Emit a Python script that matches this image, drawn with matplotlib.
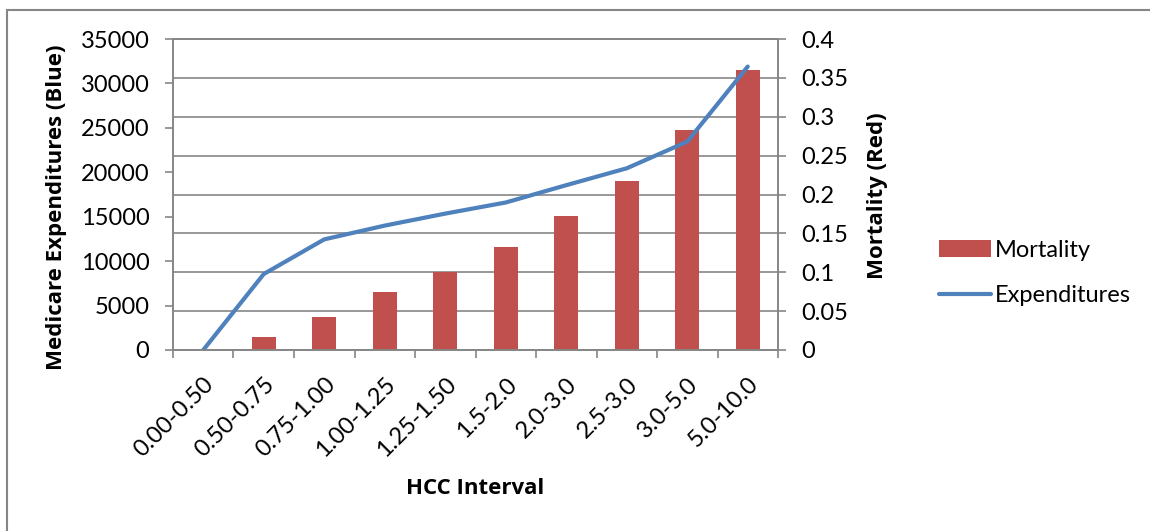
import matplotlib as mpl

mpl.use("Agg")
import matplotlib.pyplot as plt
from matplotlib.patches import Rectangle
import numpy as np

plt.rcParams["font.family"] = ["Lato", "DejaVu Sans"]

intervals = ["0.00-0.50", "0.50-0.75", "0.75-1.00", "1.00-1.25", "1.25-1.50",
             "1.5-2.0", "2.0-3.0", "2.5-3.0", "3.0-5.0", "5.0-10.0"]
mortality = [0.0, 0.017, 0.043, 0.075, 0.100, 0.132, 0.172, 0.217, 0.283, 0.360]
expenditures = [0, 8550, 12450, 14000, 15350, 16600, 18550, 20450, 23450, 31900]

RED = "#C0504D"
BLUE = "#4F81BD"
GRID = "#868686"
BOLD = dict(family=["Open Sans", "DejaVu Sans"], fontweight="bold", fontsize=16)
TICK_FS = 17

fig = plt.figure(figsize=(11.5, 5.31), dpi=100)
ax = fig.add_axes([173 / 1150, 1 - 350 / 531, 605 / 1150, 311 / 531])
ax2 = ax.twinx()

x = np.arange(len(intervals))

# bars on the right axis, gridlines live there too so they sit behind the bars
ax2.bar(x, mortality, width=0.4, color=RED, zorder=2, label="Mortality")
ax2.set_ylim(0, 0.4)
ax2.set_yticks(np.arange(0, 0.401, 0.05))
ax2.set_yticklabels(["0", "0.05", "0.1", "0.15", "0.2", "0.25", "0.3", "0.35", "0.4"])
ax2.yaxis.grid(True, color=GRID, lw=1.2)
ax2.set_axisbelow(True)

# expenditure line on the left axis, drawn above the bars
ax.set_zorder(ax2.get_zorder() + 1)
ax.patch.set_visible(False)
ax.plot(x, expenditures, color=BLUE, lw=3.0, solid_capstyle="round", label="Expenditures")
ax.set_ylim(0, 35000)
ax.set_yticks(np.arange(0, 35001, 5000))
ax.set_xlim(-0.5, len(intervals) - 0.5)
ax.set_xticks(x)
ax.set_xticklabels(intervals, rotation=45, ha="right", va="top", rotation_mode="anchor")
ax.set_xticks(np.arange(-0.5, len(intervals), 1.0), minor=True)
ax.tick_params(axis="x", which="major", length=0, pad=17)
ax.tick_params(axis="x", which="minor", length=6, color=GRID, width=1.2)

for a in (ax, ax2):
    for s in a.spines.values():
        s.set_color(GRID)
        s.set_linewidth(1.2)
    a.tick_params(axis="y", length=6, color=GRID, width=1.2, labelsize=TICK_FS, pad=11)
    a.tick_params(axis="x", labelsize=TICK_FS)
ax2.tick_params(axis="x", length=0)

ax.set_ylabel("Medicare Expenditures (Blue)", **BOLD)
ax2.set_ylabel("Mortality (Red)", **BOLD)
ax.set_xlabel("HCC Interval", **BOLD)
ax.yaxis.set_label_coords((57 - 173) / 605, (350 - 207) / 311)
ax2.yaxis.set_label_coords((877 - 173) / 605, (350 - 196) / 311)
ax.xaxis.set_label_coords(0.5, (350 - 489) / 311)
ax.xaxis.label.set_va("center")
ax.yaxis.label.set_va("center")
ax2.yaxis.label.set_va("center")

h2, l2 = ax2.get_legend_handles_labels()
h1, l1 = ax.get_legend_handles_labels()
fig.legend(h2 + h1, l2 + l1, loc="center left", bbox_to_anchor=(918 / 1150, 1 - 273 / 531),
           frameon=False, fontsize=17, handlelength=2.2, handleheight=0.7,
           handletextpad=0.15, labelspacing=1.05)

# outer chart border
fig.patches.append(Rectangle((7 / 1150, -0.1), 1.2, 1 - 9.5 / 531 + 0.1,
                             transform=fig.transFigure, fill=False, ec=GRID, lw=1.5))

fig.savefig("out.png", dpi=100)
